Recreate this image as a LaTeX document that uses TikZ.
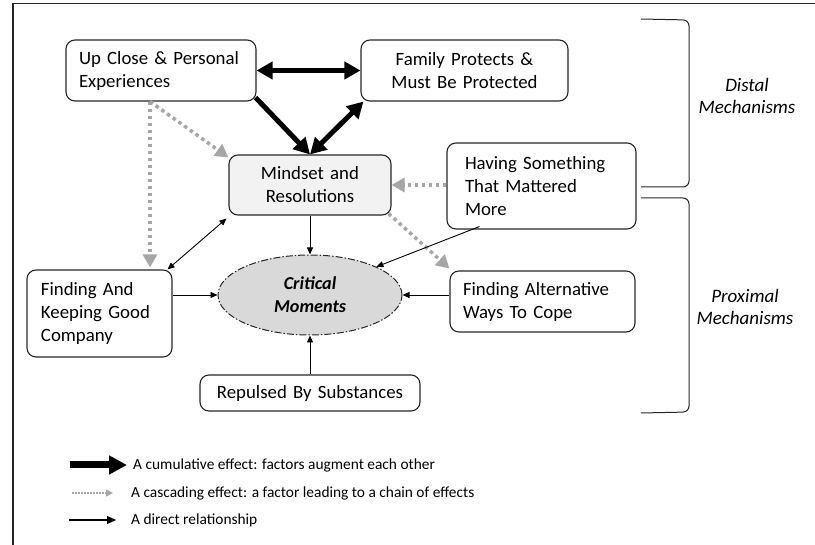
\documentclass[tikz,border=0pt]{standalone}
\usepackage{fontspec}
\setmainfont{Carlito}
\usetikzlibrary{arrows.meta,shapes.geometric,positioning}

\definecolor{cascgray}{HTML}{A6A6A6}
\definecolor{boxline}{HTML}{262626}

\tikzset{
  factor/.style={draw=boxline, line width=1.1pt, rounded corners=9pt,
    inner xsep=13pt, inner ysep=0pt, align=left,
    font=\fontsize{18.8}{23}\selectfont},
  moments/.style={ellipse, draw=boxline, fill=black!15, line width=1pt,
    dash pattern=on 7pt off 2pt on 1.5pt off 2pt,
    minimum width=184pt, minimum height=80pt, align=center,
    font=\fontsize{18.2}{23}\selectfont\bfseries\itshape},
  cumul/.style={line width=5pt, {Triangle[length=16pt,width=17pt]}-{Triangle[length=16pt,width=17pt]}},
  cumulone/.style={line width=5pt, -{Triangle[length=16pt,width=17pt]}},
  cascade/.style={draw=cascgray, line width=3.5pt, dash pattern=on 3.5pt off 3.5pt,
    -{Triangle[length=13pt,width=14pt,fill=cascgray,color=cascgray]}},
  direct/.style={line width=0.9pt, -{Triangle[length=7pt,width=6pt]}},
  mutual/.style={line width=0.9pt, {Triangle[length=7pt,width=6pt]}-{Triangle[length=7pt,width=6pt]}},
  bracket/.style={draw=boxline, line width=1pt, rounded corners=6pt},
  mechlabel/.style={align=center, font=\fontsize{19}{22}\selectfont\itshape},
  legendtext/.style={anchor=west, inner sep=0pt, font=\fontsize{15.4}{18}\selectfont}
}

\begin{document}
\begin{tikzpicture}[x=1pt, y=-1pt]
\useasboundingbox (0,0) rectangle (815,545);
\draw[boxline, line width=1.2pt] (13,545) -- (13,3.5) -- (815,3.5);

% factors
\node[factor, text width=164pt, minimum height=61pt] (UC) at (161,70.5)
  {Up Close \& Personal\\Experiences};
\node[factor, text width=181pt, minimum height=61pt, align=center] (FP) at (464.5,70.5)
  {Family Protects \&\\Must Be Protected};
\node[factor, fill=black!5, text width=136pt, minimum height=60pt, align=center] (MR) at (310,185)
  {Mindset and\\Resolutions};
\node[factor, inner xsep=18pt, text width=153pt, minimum height=86pt] (HS) at (541.5,186)
  {Having Something\\That Mattered\\More};
\node[factor, inner xsep=14pt, text width=117pt, minimum height=87pt] (FK) at (99.5,313.5)
  {Finding And\\Keeping Good\\Company};
\node[moments] (CM) at (310,295) {Critical\\Moments};
\node[factor, text width=159pt, minimum height=61pt] (FA) at (542.5,301.5)
  {Finding Alternative\\Ways To Cope};
\node[factor, text width=194pt, minimum height=36pt, align=center] (RS) at (310,393)
  {Repulsed By Substances};

% cumulative effects
\draw[cumul] (UC) -- (FP);
\draw[cumulone] ([xshift=-1pt,yshift=4pt]UC.south east) -- (MR.north);
\draw[cumul] (MR.north) -- ([xshift=3pt]FP.south west);

% cascading effects
\coordinate (ucs) at ([xshift=-11pt]UC.south);
\draw[cascade] (ucs) -- ([yshift=-3pt]MR.north west);
\draw[cascade] (ucs) -- ([yshift=2pt]ucs |- FK.north);
\draw[cascade] (HS.west |- MR.east) -- (MR.east);
\draw[cascade] ([xshift=-3pt,yshift=2pt]MR.south east) -- ([yshift=2pt]FA.north west);

% direct relationships
\draw[mutual] ([xshift=-5pt]FK.north east) -- ([xshift=-2pt,yshift=-3pt]MR.south west);
\draw[direct] (MR.south) -- (CM.north);
\draw[direct] ([xshift=33pt,yshift=3pt]HS.south west) -- (CM.23);
\draw[direct] (FK.east |- CM.west) -- (CM.west);
\draw[direct] (FA.west |- CM.east) -- (CM.east);
\draw[direct] (RS.north) -- (CM.south);

% mechanisms
\draw[bracket] (641,19) -- (689,20) -- (689,187) -- (641,187);
\draw[bracket] (641,198) -- (689,198) -- (689,412) -- (641,413);
\node[mechlabel] (distal) at (747,96) {Distal\\Mechanisms};
\node[mechlabel] (proximal) at (745,307) {Proximal\\Mechanisms};

% legend
\coordinate (l1a) at (70,465);  \coordinate (l1b) at (127,465);
\coordinate (l2a) at (72,493);  \coordinate (l2b) at (113,493);
\coordinate (l3a) at (69,520);  \coordinate (l3b) at (116,520);
\draw[line width=7pt, -{Triangle[length=18pt,width=18pt]}] (l1a) -- (l1b);
\draw[cascgray, line width=1.5pt, dash pattern=on 1.5pt off 1.5pt,
  -{Triangle[length=7pt,width=7pt,fill=cascgray,color=cascgray]}] (l2a) -- (l2b);
\draw[line width=1.2pt, -{Triangle[length=9pt,width=8pt]}] (l3a) -- (l3b);
\node[legendtext] (t1) at (133,465) {A cumulative effect: factors augment each other};
\node[legendtext] (t2) at (131,493) {A cascading effect: a factor leading to a chain of effects};
\node[legendtext] (t3) at (131,520) {A direct relationship};
\end{tikzpicture}
\end{document}
